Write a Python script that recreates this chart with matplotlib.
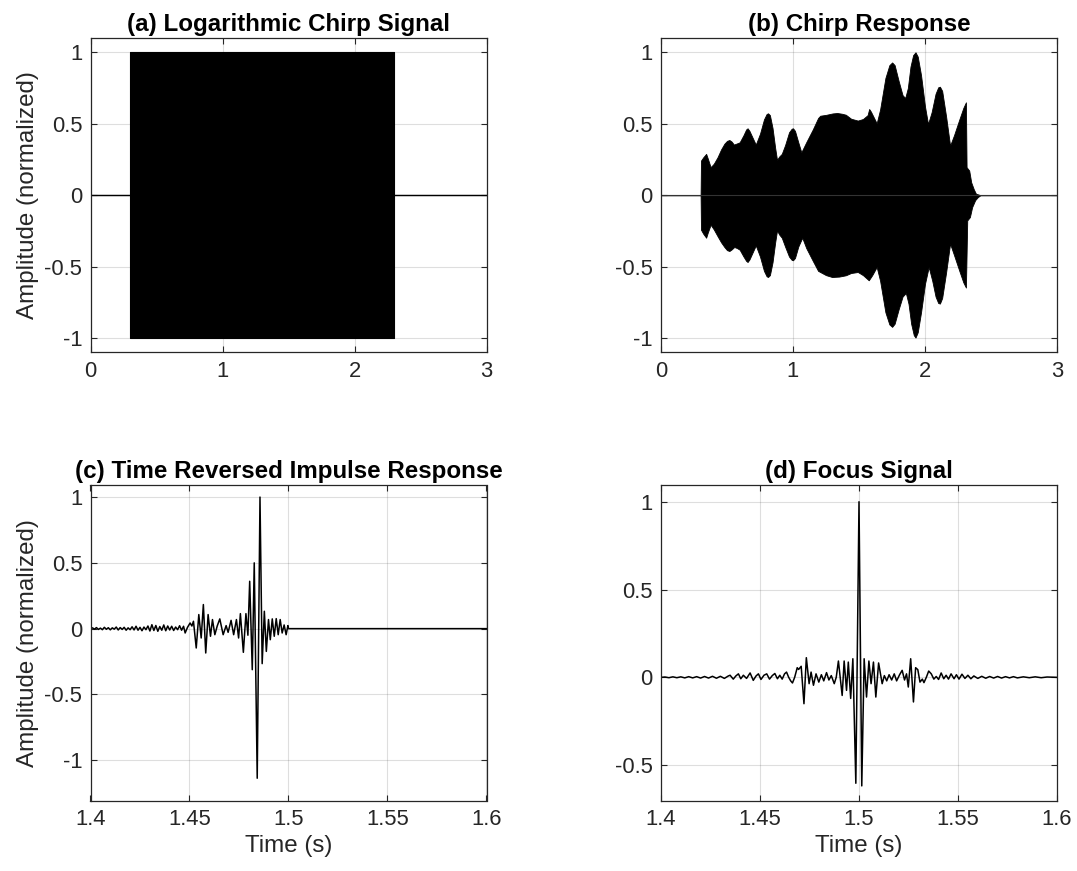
import matplotlib
matplotlib.use("Agg")
import matplotlib.pyplot as plt
from matplotlib.ticker import FuncFormatter

plt.rcParams['font.family'] = ['Liberation Sans', 'DejaVu Sans']
plt.rcParams['axes.unicode_minus'] = False

# ---------------- data ----------------
# (a) logarithmic chirp: envelope of the dense +-1 oscillation
chirp_t = [0.0, 0.3, 0.3, 2.3, 2.3, 3.0]
chirp_env = [0.0, 0.0, 1.0, 1.0, 0.0, 0.0]

# (b) chirp response: upper and lower envelopes
b_up_t = [0.0, 0.300, 0.303, 0.320, 0.342, 0.355, 0.376, 0.400, 0.428, 0.455,
          0.480, 0.500, 0.518, 0.535, 0.552, 0.575, 0.596, 0.625, 0.645, 0.656,
          0.670, 0.718, 0.750, 0.780, 0.800, 0.811, 0.825, 0.845, 0.865, 0.879,
          0.895, 0.915, 0.940, 0.970, 0.990, 1.000, 1.015, 1.040, 1.063, 1.100,
          1.150, 1.190, 1.206, 1.250, 1.300, 1.335, 1.370, 1.400, 1.440, 1.491,
          1.530, 1.565, 1.577, 1.590, 1.634, 1.660, 1.700, 1.730, 1.751, 1.770,
          1.800, 1.830, 1.850, 1.870, 1.890, 1.910, 1.928, 1.945, 1.970, 2.000,
          2.023, 2.050, 2.080, 2.100, 2.113, 2.130, 2.160, 2.190, 2.220, 2.260,
          2.290, 2.310, 2.315, 2.335, 2.350, 2.370, 2.386, 2.420, 3.0]
b_up_v = [0.0, 0.0, 0.242, 0.265, 0.289, 0.255, 0.196, 0.220, 0.265, 0.320,
          0.360, 0.380, 0.386, 0.375, 0.354, 0.362, 0.370, 0.420, 0.460, 0.468,
          0.450, 0.354, 0.430, 0.530, 0.568, 0.573, 0.560, 0.470, 0.330, 0.247,
          0.270, 0.289, 0.350, 0.440, 0.465, 0.468, 0.450, 0.370, 0.300, 0.370,
          0.460, 0.540, 0.556, 0.562, 0.572, 0.575, 0.570, 0.563, 0.535, 0.522,
          0.533, 0.560, 0.603, 0.585, 0.503, 0.600, 0.820, 0.910, 0.929, 0.910,
          0.800, 0.700, 0.680, 0.750, 0.900, 0.980, 1.000, 0.970, 0.840, 0.620,
          0.498, 0.580, 0.710, 0.755, 0.759, 0.730, 0.550, 0.347, 0.420, 0.530,
          0.610, 0.650, 0.196, 0.172, 0.090, 0.040, 0.010, 0.0, 0.0]
b_lo_t = [0.0, 0.300, 0.303, 0.320, 0.342, 0.355, 0.376, 0.400, 0.430, 0.455,
          0.480, 0.500, 0.518, 0.535, 0.555, 0.575, 0.596, 0.625, 0.645, 0.656,
          0.670, 0.718, 0.750, 0.780, 0.800, 0.811, 0.825, 0.845, 0.865, 0.879,
          0.895, 0.915, 0.940, 0.970, 0.990, 1.000, 1.015, 1.040, 1.070, 1.100,
          1.150, 1.190, 1.206, 1.250, 1.296, 1.350, 1.400, 1.440, 1.491, 1.530,
          1.574, 1.600, 1.634, 1.660, 1.700, 1.730, 1.751, 1.770, 1.800, 1.830,
          1.855, 1.875, 1.895, 1.915, 1.928, 1.945, 1.970, 2.000, 2.028, 2.055,
          2.080, 2.100, 2.113, 2.130, 2.160, 2.190, 2.220, 2.260, 2.290, 2.310,
          2.320, 2.340, 2.357, 2.380, 2.400, 2.420, 3.0]
b_lo_v = [0.0, 0.0, -0.242, -0.270, -0.298, -0.260, -0.207, -0.240, -0.290, -0.330,
          -0.363, -0.385, -0.391, -0.380, -0.363, -0.370, -0.382, -0.430, -0.460, -0.468,
          -0.450, -0.352, -0.430, -0.530, -0.568, -0.573, -0.560, -0.470, -0.330, -0.247,
          -0.275, -0.298, -0.360, -0.430, -0.453, -0.456, -0.440, -0.360, -0.298, -0.370,
          -0.460, -0.530, -0.538, -0.560, -0.573, -0.570, -0.561, -0.545, -0.538, -0.560,
          -0.596, -0.560, -0.503, -0.600, -0.820, -0.905, -0.922, -0.900, -0.800, -0.710,
          -0.685, -0.760, -0.900, -0.980, -0.997, -0.960, -0.820, -0.620, -0.503, -0.600,
          -0.710, -0.755, -0.759, -0.720, -0.540, -0.340, -0.420, -0.530, -0.610, -0.647,
          -0.177, -0.154, -0.084, -0.035, -0.014, 0.0, 0.0]
baseline_t = [0.0, 3.0]
baseline_v = [0.0, 0.0]

# (c) time reversed impulse response
c_t = [1.400, 1.401, 1.402, 1.403, 1.404, 1.405, 1.406, 1.407, 1.408, 1.409,
       1.410, 1.411, 1.412, 1.413, 1.414, 1.415, 1.416, 1.417, 1.418, 1.419,
       1.420, 1.421, 1.422, 1.423, 1.424, 1.425, 1.426, 1.427, 1.428, 1.429,
       1.430, 1.431, 1.432, 1.433, 1.434, 1.435, 1.436, 1.437, 1.438, 1.439,
       1.440, 1.441, 1.442, 1.443, 1.444, 1.445, 1.446, 1.447, 1.4478, 1.4490,
       1.4503, 1.4512, 1.4520, 1.4534, 1.4547, 1.4559, 1.4570, 1.4582, 1.4594, 1.4606,
       1.4616, 1.4628, 1.4640, 1.4653, 1.4670, 1.4685, 1.4695, 1.4710, 1.4723, 1.4737,
       1.4748, 1.4757, 1.4772, 1.4785, 1.4795, 1.4804, 1.4817, 1.4827, 1.4842, 1.4856,
       1.4867, 1.4878, 1.4888, 1.4899, 1.4908, 1.4918, 1.4928, 1.4938, 1.4948, 1.4958,
       1.4968, 1.4978, 1.4988, 1.4997, 1.5000, 1.6000]
c_v = [0.000, 0.006, -0.004, 0.008, -0.006, 0.004, -0.008, 0.010, -0.005, 0.007,
       -0.009, 0.006, -0.004, 0.012, -0.010, 0.008, -0.006, 0.010, -0.012, 0.006,
       -0.008, 0.014, -0.010, 0.018, -0.012, 0.010, -0.016, 0.012, -0.008, 0.020,
       -0.018, 0.030, -0.014, 0.024, -0.020, 0.016, -0.012, 0.028, -0.016, 0.020,
       -0.010, 0.018, -0.014, 0.012, -0.008, 0.022, -0.012, 0.018, -0.033, 0.010,
       0.043, 0.020, 0.056, -0.147, 0.107, -0.071, 0.183, -0.185, 0.107, -0.058,
       0.069, -0.046, 0.020, 0.074, -0.046, 0.023, -0.028, 0.063, -0.046, 0.069,
       -0.071, 0.114, -0.180, 0.114, -0.050, 0.360, -0.312, 0.500, -1.137, 1.000,
       -0.266, 0.132, -0.173, 0.069, -0.084, 0.074, -0.058, 0.076, -0.046, 0.069,
       -0.033, 0.028, -0.046, 0.023, 0.000, 0.000]

# (d) focus signal
d_t = [1.400, 1.402, 1.404, 1.406, 1.408, 1.410, 1.412, 1.414, 1.416, 1.418,
       1.420, 1.422, 1.424, 1.426, 1.428, 1.430, 1.432, 1.434, 1.4349, 1.4365,
       1.4378, 1.4391, 1.4403, 1.4416, 1.4432, 1.4450, 1.4466, 1.4480, 1.4492, 1.4505,
       1.4520, 1.4534, 1.4548, 1.4562, 1.4575, 1.4588, 1.4600, 1.4612, 1.4624, 1.4634,
       1.4645, 1.4655, 1.4664, 1.4675, 1.4688, 1.4695, 1.4708, 1.4722, 1.4734, 1.4748,
       1.4758, 1.4770, 1.4783, 1.4797, 1.4810, 1.4822, 1.4836, 1.4848, 1.4860, 1.4875,
       1.4885, 1.4896, 1.4915, 1.4925, 1.4937, 1.4946, 1.4958, 1.4969, 1.4984, 1.5000,
       1.5014, 1.5026, 1.5038, 1.5050, 1.5061, 1.5073, 1.5085, 1.5099, 1.5117, 1.5128,
       1.5140, 1.5152, 1.5165, 1.5178, 1.5190, 1.5205, 1.5218, 1.5230, 1.5240, 1.5249,
       1.5261, 1.5275, 1.5286, 1.5297, 1.5308, 1.5320, 1.5328, 1.5340, 1.5352, 1.5365,
       1.5378, 1.5390, 1.5402, 1.5415, 1.5428, 1.5440, 1.5452, 1.5465, 1.5480, 1.5492,
       1.5505, 1.5520, 1.5535, 1.5550, 1.5565, 1.558, 1.560, 1.562, 1.564, 1.566,
       1.568, 1.570, 1.572, 1.574, 1.576, 1.578, 1.580, 1.583, 1.586, 1.589,
       1.592, 1.595, 1.600]
d_v = [0.000, 0.002, -0.002, 0.003, -0.002, 0.003, -0.003, 0.004, -0.003, 0.004,
       -0.004, 0.005, -0.004, 0.006, -0.005, 0.006, -0.006, 0.008, 0.012, -0.010,
       0.008, 0.020, -0.008, 0.012, -0.006, 0.025, -0.017, 0.008, 0.020, -0.012,
       0.012, 0.020, -0.010, 0.010, 0.022, -0.008, 0.012, -0.010, 0.020, 0.030,
       0.000, -0.020, -0.032, 0.000, 0.055, 0.045, 0.063, -0.150, 0.112, -0.036,
       0.030, -0.045, 0.020, -0.027, 0.015, -0.020, 0.027, -0.015, 0.010, -0.036,
       0.000, 0.093, -0.103, 0.093, -0.074, 0.087, -0.120, 0.106, -0.603, 1.000,
       -0.618, 0.106, -0.112, 0.093, -0.036, 0.087, -0.112, 0.082, -0.036, 0.010,
       -0.020, 0.015, -0.015, 0.020, -0.020, 0.015, 0.040, -0.015, 0.020, -0.055,
       0.106, -0.140, 0.055, 0.044, -0.027, -0.010, -0.030, 0.000, 0.036, 0.020,
       -0.010, 0.005, -0.012, 0.025, -0.008, 0.012, -0.010, 0.020, -0.008, 0.015,
       -0.010, 0.018, -0.006, 0.012, -0.008, 0.008, -0.006, 0.006, -0.005, 0.005,
       -0.004, 0.005, -0.004, 0.004, -0.003, 0.004, -0.003, 0.003, -0.002, 0.003,
       -0.002, 0.002, 0.000]

titles = ['(a) Logarithmic Chirp Signal', '(b) Chirp Response',
          '(c) Time Reversed Impulse Response', '(d) Focus Signal']
ylabel_text = 'Amplitude (normalized)'
xlabel_text = 'Time (s)'
top_xticks = [0, 1, 2, 3]
bot_xticks = [1.4, 1.45, 1.5, 1.55, 1.6]
top_yticks = [-1, -0.5, 0, 0.5, 1]
c_yticks = [-1, -0.5, 0, 0.5, 1]
d_yticks = [-0.5, 0, 0.5, 1]

# ---------------- figure ----------------
fig = plt.figure(figsize=(10.77, 8.71), dpi=100)
W, H = 1077.0, 871.0
ax_a = fig.add_axes([90.5 / W, 1 - 352.3 / H, 396 / W, 314.3 / H])
ax_b = fig.add_axes([661 / W, 1 - 352.3 / H, 396 / W, 314.3 / H])
ax_c = fig.add_axes([90.5 / W, 1 - 801 / H, 396 / W, 316.3 / H])
ax_d = fig.add_axes([661 / W, 1 - 801 / H, 396 / W, 316.3 / H])

DARK = '#262626'
fmt = FuncFormatter(lambda v, p: f'{v:g}')


def style(ax, title):
    ax.set_axisbelow(True)
    ax.grid(True, color=DARK, alpha=0.15, linewidth=0.8)
    for s in ax.spines.values():
        s.set_color(DARK)
        s.set_linewidth(0.9)
    ax.tick_params(direction='in', length=4, width=0.8, colors=DARK,
                   labelsize=15.8, top=True, right=True, pad=6)
    ax.xaxis.set_major_formatter(fmt)
    ax.yaxis.set_major_formatter(fmt)
    ax.set_title(title, fontsize=17.4, fontweight='bold', pad=5, color='black')


# (a)
env_lo = [-v for v in chirp_env]
ax_a.fill_between(chirp_t, env_lo, chirp_env, color='black', linewidth=0.8)
ax_a.plot(baseline_t, baseline_v, color='black', linewidth=0.9)
ax_a.set_xlim(0, 3)
ax_a.set_ylim(-1.1, 1.1)
ax_a.set_xticks(top_xticks)
ax_a.set_yticks(top_yticks)
style(ax_a, titles[0])
ax_a.set_ylabel(ylabel_text, fontsize=17.4, color=DARK, labelpad=4)

# (b)
ax_b.fill_between(b_up_t, 0, b_up_v, color='black', linewidth=0.6)
ax_b.fill_between(b_lo_t, b_lo_v, 0, color='black', linewidth=0.6)
ax_b.plot(baseline_t, baseline_v, color='#333333', linewidth=0.8)
ax_b.set_xlim(0, 3)
ax_b.set_ylim(-1.1, 1.1)
ax_b.set_xticks(top_xticks)
ax_b.set_yticks(top_yticks)
style(ax_b, titles[1])

# (c)
ax_c.plot(c_t, c_v, color='black', linewidth=1.1)
ax_c.set_xlim(1.4, 1.6)
ax_c.set_ylim(-1.31, 1.094)
ax_c.set_xticks(bot_xticks)
ax_c.set_yticks(c_yticks)
style(ax_c, titles[2])
ax_c.set_ylabel(ylabel_text, fontsize=17.4, color=DARK, labelpad=4)
ax_c.set_xlabel(xlabel_text, fontsize=17.4, color=DARK, labelpad=3)

# (d)
ax_d.plot(d_t, d_v, color='black', linewidth=1.1)
ax_d.set_xlim(1.4, 1.6)
ax_d.set_ylim(-0.704, 1.097)
ax_d.set_xticks(bot_xticks)
ax_d.set_yticks(d_yticks)
style(ax_d, titles[3])
ax_d.set_xlabel(xlabel_text, fontsize=17.4, color=DARK, labelpad=3)

fig.savefig('out.png', dpi=100)
